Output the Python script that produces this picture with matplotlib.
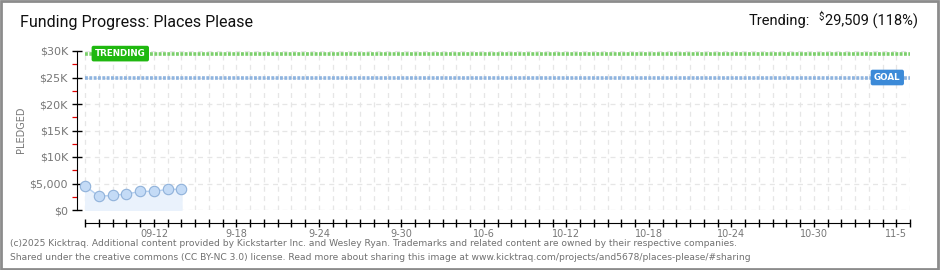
import datetime as dt
import matplotlib
matplotlib.use("Agg")
import matplotlib.pyplot as plt
from matplotlib.patches import Rectangle
from matplotlib.ticker import FixedLocator, FuncFormatter

# data
start = dt.date(2025, 9, 7)
n_days = 60
pledged = [4520, 2580, 2770, 3010, 3520, 3520, 3900, 3900]
goal = 25000
trending = 29509
tick_days = [5, 11, 17, 23, 29, 35, 41, 47, 53, 59]
tick_labels = ["09-12", "9-18", "9-24", "9-30", "10-6", "10-12",
               "10-18", "10-24", "10-30", "11-5"]
y_ticks = [0, 5000, 10000, 15000, 20000, 25000, 30000]
y_labels = ["$0", "$5,000", "$10K", "$15K", "$20K", "$25K", "$30K"]

W, H = 940, 270
fig = plt.figure(figsize=(W / 100, H / 100), dpi=100)
fig.patch.set_facecolor("white")

# outer grey frame
fig.patches.append(Rectangle((0.001, 0.003), 0.997, 0.994, transform=fig.transFigure,
                             fill=False, edgecolor="#8c8c8c", linewidth=2))

left, right, top, bottom = 77, 910, 51, 210
ax = fig.add_axes([left / W, 1 - bottom / H, (right - left) / W, (bottom - top) / H])
ax.set_xlim(-0.6, n_days)
ax.set_ylim(0, 30000)

# grid
for d in range(n_days + 1):
    ax.axvline(d, color="#e6e6e6", lw=0.9, ls=(0, (4, 3.5)), zorder=0)
for v in y_ticks:
    ax.axhline(v, xmin=0.6 / (n_days + 0.6), color="#e6e6e6", lw=0.9,
               ls=(0, (4, 3.5)), zorder=0)

# goal / trending lines
ax.plot([0, n_days], [trending, trending], color="#7ccf6c", lw=2.6,
        ls=(0, (0.8, 0.4)), zorder=2)
ax.plot([0, n_days], [goal, goal], color="#8fb4df", lw=2.6,
        ls=(0, (0.8, 0.4)), zorder=2)

ax.text(2.55, trending, "TRENDING", color="white", fontsize=6.3, fontweight="bold",
        ha="center", va="center", zorder=5,
        bbox=dict(boxstyle="round,pad=0.3,rounding_size=0.15", fc="#1fb80f",
                  ec="#1fb80f"))
ax.text(58.35, goal, "GOAL", color="white", fontsize=6.3, fontweight="bold",
        ha="center", va="center", zorder=5,
        bbox=dict(boxstyle="round,pad=0.3,rounding_size=0.15", fc="#3c8ad8",
                  ec="#3c8ad8"))

# pledged series
days = list(range(len(pledged)))
ax.fill_between(days, pledged, 0, color="#eaf2fc", zorder=1)
ax.plot(days, pledged, color="#b5d0f0", lw=1, zorder=3)
ax.plot(days, pledged, "o", ms=7.5, mfc="#c4dbf6", mec="#90b2da", mew=0.8,
        zorder=4, clip_on=False)

# axes styling
for s in ["top", "right"]:
    ax.spines[s].set_visible(False)
ax.spines["left"].set_bounds(0, 30000)
ax.spines["left"].set_color("black")
ax.spines["bottom"].set_position(("outward", 9))
ax.spines["bottom"].set_bounds(0, n_days)
ax.spines["bottom"].set_color("black")

ax.yaxis.set_major_locator(FixedLocator(y_ticks))
ax.set_yticklabels(y_labels)
ax.yaxis.set_minor_locator(FixedLocator([2500 + 5000 * i for i in range(6)]))
ax.tick_params(axis="y", which="major", direction="inout", length=7, width=1,
               color="black", labelsize=8, labelcolor="#777777", pad=3)
ax.tick_params(axis="y", which="minor", direction="out", length=3.5, width=0.9,
               color="#e00000")

ax.xaxis.set_major_locator(FixedLocator(range(n_days + 1)))
lab = dict(zip(tick_days, tick_labels))
ax.xaxis.set_major_formatter(FuncFormatter(lambda v, p: lab.get(int(round(v)), "")))
ax.tick_params(axis="x", which="major", direction="inout", length=6, width=1,
               color="black", labelsize=7, labelcolor="#777777", pad=2)

fig.text(21 / W, 1 - 130 / H, "PLEDGED", fontsize=7, color="#777777",
         rotation=90, ha="center", va="center")

# header
fig.text(20 / W, 1 - 22 / H, "Funding Progress: Places Please", fontsize=11.5,
         family="Roboto", color="#111111", va="center", ha="left")

fig.canvas.draw()
rend = fig.canvas.get_renderer()
t_num = fig.text(918 / W, 1 - 21 / H, "29,509 (118%)", fontsize=10.5, family="Roboto",
                 color="#111111", va="center", ha="right")
x0 = t_num.get_window_extent(rend).x0
t_dol = fig.text((x0 - 1) / W, 1 - 17 / H, "$", fontsize=7, family="Roboto",
                 color="#111111", va="center", ha="right")
x1 = t_dol.get_window_extent(rend).x0
fig.text((x1 - 9) / W, 1 - 21 / H, "Trending:", fontsize=10.5, family="Roboto",
         color="#111111", va="center", ha="right")

# footer
foot1 = ("(c)2025 Kicktraq. Additional content provided by Kickstarter Inc. and Wesley Ryan. "
         "Trademarks and related content are owned by their respective companies.")
foot2 = ("Shared under the creative commons (CC BY-NC 3.0) license. Read more about sharing "
         "this image at www.kicktraq.com/projects/and5678/places-please/#sharing")
fig.text(10 / W, 1 - 243 / H, foot1, fontsize=6.6, color="#707070", va="center")
fig.text(10 / W, 1 - 257 / H, foot2, fontsize=6.6, color="#707070", va="center")

fig.savefig("out.png", dpi=100)
